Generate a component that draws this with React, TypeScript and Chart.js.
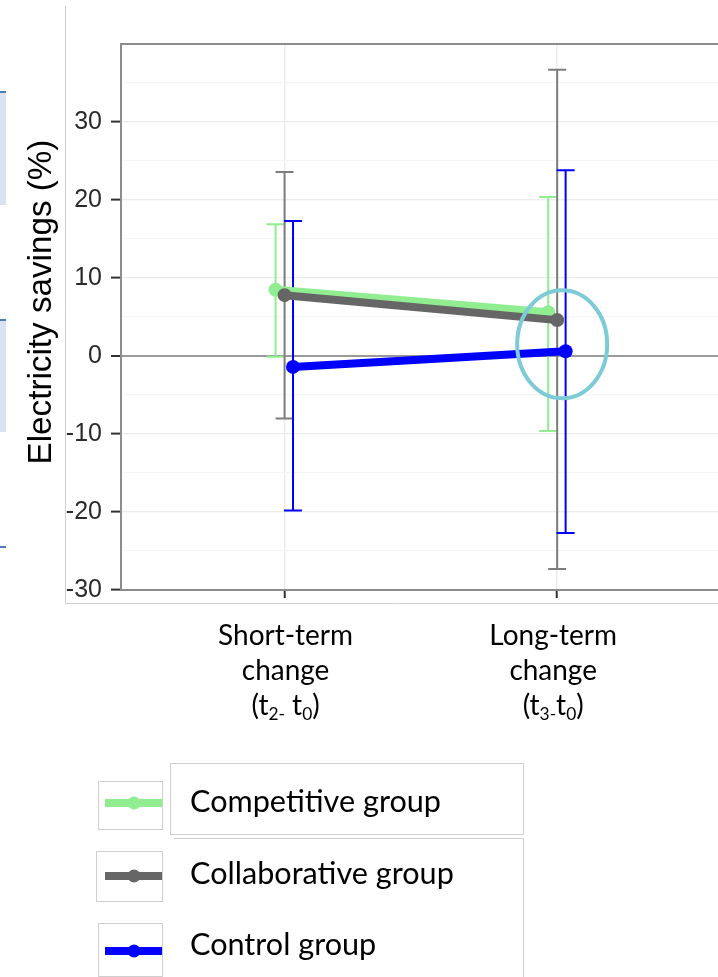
import React, { useEffect, useRef } from 'react';
import { Chart, registerables } from 'chart.js';

Chart.register(...registerables);

// ---------- data ----------
const categoryPositions = [1, 2];
const categoryLabels = [
  ['Short-term', 'change', '(t_{2-} t_{0})'],
  ['Long-term', 'change', '(t_{3-}t_{0})'],
];
const seriesNames = ['Competitive group', 'Collaborative group', 'Control group'];

const competitiveMean = [8.5, 5.6];
const competitiveLower = [-0.1, -9.6];
const competitiveUpper = [16.9, 20.4];

const collaborativeMean = [7.8, 4.6];
const collaborativeLower = [-8.0, -27.3];
const collaborativeUpper = [23.6, 36.7];

const controlMean = [-1.4, 0.6];
const controlLower = [-19.8, -22.7];
const controlUpper = [17.3, 23.8];

const yTickLabels = [-30, -20, -10, 0, 10, 20, 30];
const yTitle = 'Electricity savings (%)';
const highlightCategory = 1; // index of the circled category
const highlightValue = 1.5;

// ---------- styles ----------
const series = [
  { name: seriesNames[0], mean: competitiveMean, lower: competitiveLower, upper: competitiveUpper, color: '#90ee90', errColor: '#90ee90', dodge: -0.033, order: 3 },
  { name: seriesNames[1], mean: collaborativeMean, lower: collaborativeLower, upper: collaborativeUpper, color: '#666666', errColor: '#7d7d7d', dodge: 0, order: 2 },
  { name: seriesNames[2], mean: controlMean, lower: controlLower, upper: controlUpper, color: '#0000ff', errColor: '#0000ff', dodge: 0.031, order: 1 },
];

const CAL = 'Lato, "Open Sans", "DejaVu Sans", sans-serif';
const ARIAL = '"Liberation Sans", Arial, sans-serif';
const VIEW_W = 718;
const CANVAS_W = 730;

function fitSize(ctx: CanvasRenderingContext2D, text: string, family: string, target: number, weight = '400') {
  ctx.font = `${weight} 100px ${family}`;
  const w = ctx.measureText(text).width;
  return (100 * target) / w;
}

function drawRich(ctx: CanvasRenderingContext2D, text: string, cx: number, baseline: number, size: number) {
  const parts: { t: string; sub: boolean }[] = [];
  const re = /_\{([^}]*)\}/g;
  let last = 0;
  let m: RegExpExecArray | null;
  while ((m = re.exec(text))) {
    if (m.index > last) parts.push({ t: text.slice(last, m.index), sub: false });
    parts.push({ t: m[1], sub: true });
    last = m.index + m[0].length;
  }
  if (last < text.length) parts.push({ t: text.slice(last), sub: false });
  const subSize = size * 0.62;
  let total = 0;
  const widths = parts.map((p) => {
    ctx.font = `400 ${p.sub ? subSize : size}px ${CAL}`;
    const w = ctx.measureText(p.t).width;
    total += w;
    return w;
  });
  let x = cx - total / 2;
  ctx.textAlign = 'left';
  ctx.textBaseline = 'alphabetic';
  parts.forEach((p, i) => {
    ctx.font = `400 ${p.sub ? subSize : size}px ${CAL}`;
    ctx.fillText(p.t, x, baseline + (p.sub ? size * 0.18 : 0));
    x += widths[i];
  });
}

const decorPlugin = {
  id: 'decor',
  beforeDraw(chart: any) {
    const ctx: CanvasRenderingContext2D = chart.ctx;
    ctx.save();
    // slide artifacts on the left
    ctx.fillStyle = '#dae3f3';
    ctx.fillRect(0, 92, 6, 113);
    ctx.fillRect(0, 320, 6, 112);
    ctx.strokeStyle = '#4a7ebb';
    ctx.lineWidth = 2;
    [92, 320, 547].forEach((y) => {
      ctx.beginPath();
      ctx.moveTo(0, y);
      ctx.lineTo(6, y);
      ctx.stroke();
    });
    // outer frame of the picture
    ctx.strokeStyle = '#d0d0d0';
    ctx.lineWidth = 1;
    ctx.beginPath();
    ctx.moveTo(65.5, 6);
    ctx.lineTo(65.5, 603.5);
    ctx.lineTo(chart.width, 603.5);
    ctx.stroke();
    ctx.restore();
  },
  beforeDatasetsDraw(chart: any) {
    const ctx: CanvasRenderingContext2D = chart.ctx;
    const xs = chart.scales.x;
    const ys = chart.scales.y;
    ctx.save();
    ctx.lineWidth = 2;
    series.forEach((s) => {
      ctx.strokeStyle = s.errColor;
      s.mean.forEach((_, i) => {
        const x = xs.getPixelForValue(categoryPositions[i] + s.dodge);
        const yl = ys.getPixelForValue(s.lower[i]);
        const yu = ys.getPixelForValue(s.upper[i]);
        ctx.beginPath();
        ctx.moveTo(x, yl);
        ctx.lineTo(x, yu);
        ctx.moveTo(x - 9, yl);
        ctx.lineTo(x + 9, yl);
        ctx.moveTo(x - 9, yu);
        ctx.lineTo(x + 9, yu);
        ctx.stroke();
      });
    });
    ctx.restore();
  },
  afterDatasetsDraw(chart: any) {
    const ctx: CanvasRenderingContext2D = chart.ctx;
    const xs = chart.scales.x;
    const ys = chart.scales.y;
    const ca = chart.chartArea;
    ctx.save();
    // top frame
    ctx.strokeStyle = '#8c8c8c';
    ctx.lineWidth = 2;
    ctx.beginPath();
    ctx.moveTo(ca.left - 1, ca.top);
    ctx.lineTo(chart.width, ca.top);
    ctx.stroke();
    // highlight ellipse
    const cx = xs.getPixelForValue(categoryPositions[highlightCategory]) + 5;
    const cy = ys.getPixelForValue(highlightValue);
    ctx.strokeStyle = '#7ccbd6';
    ctx.lineWidth = 4;
    ctx.beginPath();
    ctx.ellipse(cx, cy, 45, 54, 0, 0, Math.PI * 2);
    ctx.stroke();
    ctx.restore();
  },
  afterDraw(chart: any) {
    const ctx: CanvasRenderingContext2D = chart.ctx;
    const xs = chart.scales.x;
    const ca = chart.chartArea;
    ctx.save();
    ctx.fillStyle = '#000';
    // x category labels
    const xSize = fitSize(ctx, categoryLabels[0][0], CAL, 135);
    categoryLabels.forEach((lines, i) => {
      const cx = xs.getPixelForValue(categoryPositions[i]);
      lines.forEach((ln, j) => {
        drawRich(ctx, ln, cx + (i === 1 ? -4 : 1), ca.bottom + 55 + j * 35, xSize);
      });
    });
    // y title
    const tSize = fitSize(ctx, yTitle, ARIAL, 325);
    ctx.save();
    ctx.translate(51, (ca.top + ca.bottom) / 2 - 15);
    ctx.rotate(-Math.PI / 2);
    ctx.font = `400 ${tSize}px ${ARIAL}`;
    ctx.textAlign = 'center';
    ctx.textBaseline = 'alphabetic';
    ctx.fillText(yTitle, 0, 0);
    ctx.restore();

    // legend boxes
    ctx.strokeStyle = '#cfcfcf';
    ctx.lineWidth = 1;
    ctx.strokeRect(170.5, 763.5, 353, 71);
    ctx.beginPath();
    ctx.moveTo(174, 838.5);
    ctx.lineTo(523.5, 838.5);
    ctx.lineTo(523.5, 977);
    ctx.stroke();
    ctx.strokeRect(98.5, 781.5, 64, 48);
    ctx.strokeRect(96.5, 851.5, 66, 50);
    ctx.strokeRect(98.5, 923.5, 64, 53);

    const lineYs = [803, 876, 951];
    const textBase = [812, 884, 955];
    const lSize = fitSize(ctx, series[0].name, CAL, 251);
    series.forEach((s, i) => {
      ctx.strokeStyle = s.color;
      ctx.lineWidth = 8;
      ctx.beginPath();
      ctx.moveTo(105, lineYs[i]);
      ctx.lineTo(162, lineYs[i]);
      ctx.stroke();
      ctx.fillStyle = s.color;
      ctx.beginPath();
      ctx.arc(134, lineYs[i], 6.5, 0, Math.PI * 2);
      ctx.fill();
      ctx.fillStyle = '#000';
      ctx.font = `400 ${lSize}px ${CAL}`;
      ctx.textAlign = 'left';
      ctx.textBaseline = 'alphabetic';
      ctx.fillText(s.name, 190, textBase[i]);
    });
    ctx.restore();
  },
};

export default function App() {
  const ref = useRef<HTMLCanvasElement | null>(null);
  useEffect(() => {
    if (!ref.current) return;
    const yTickVals: number[] = [];
    for (let v = -30; v <= 40; v += 5) yTickVals.push(v);
    const chart = new Chart(ref.current, {
      type: 'line',
      data: {
        datasets: series.map((s) => ({
          label: s.name,
          data: s.mean.map((v, i) => ({ x: categoryPositions[i] + s.dodge, y: v })),
          borderColor: s.color,
          backgroundColor: s.color,
          borderWidth: 8,
          pointRadius: 7,
          pointHoverRadius: 7,
          pointBorderWidth: 0,
          order: s.order,
          tension: 0,
        })),
      },
      options: {
        animation: false,
        responsive: false,
        devicePixelRatio: 1,
        layout: { autoPadding: false, padding: { top: 44, left: 0, right: 0, bottom: 0 } },
        plugins: { legend: { display: false }, tooltip: { enabled: false } },
        events: [],
        scales: {
          x: {
            type: 'linear',
            min: 0.4,
            max: 2.634,
            afterBuildTicks: (s: any) => {
              s.ticks = categoryPositions.map((v) => ({ value: v }));
            },
            afterFit: (s: any) => {
              s.height = 387;
            },
            grid: {
              color: (c: any) => (c.tick && categoryPositions.includes(c.tick.value) ? '#ececec' : 'rgba(0,0,0,0)'),
              lineWidth: 1.5,
              tickLength: 8,
              tickColor: (c: any) => (c.tick && categoryPositions.includes(c.tick.value) ? '#333' : 'rgba(0,0,0,0)'),
              tickWidth: 2,
            },
            border: { display: true, color: '#8c8c8c', width: 2 },
            ticks: { display: false },
          },
          y: {
            type: 'linear',
            min: -30,
            max: 40,
            afterBuildTicks: (s: any) => {
              s.ticks = yTickVals.map((v) => ({ value: v }));
            },
            afterFit: (s: any) => {
              s.width = 121;
            },
            ticks: {
              autoSkip: false,
              padding: 9,
              color: '#2b2b2b',
              font: { family: ARIAL, size: 25 },
              callback: (v: any) => (yTickLabels.includes(Number(v)) ? String(v) : ''),
            },
            grid: {
              color: (c: any) => {
                const v = c.tick ? c.tick.value : 1;
                if (v === 0) return '#9a9a9a';
                return v % 10 === 0 ? '#ececec' : '#f5f5f5';
              },
              lineWidth: (c: any) => {
                const v = c.tick ? c.tick.value : 1;
                return v === 0 ? 2 : 1.2;
              },
              tickLength: 10,
              tickWidth: 2,
              tickColor: (c: any) => {
                const v = c.tick ? c.tick.value : 1;
                return yTickLabels.includes(v) ? '#333' : 'rgba(0,0,0,0)';
              },
            },
            border: { display: true, color: '#8c8c8c', width: 2 },
          },
        },
      },
      plugins: [decorPlugin],
    } as any);
    return () => chart.destroy();
  }, []);
  return (
    <div style={{ position: 'absolute', left: 0, top: 0, width: VIEW_W, height: 977, overflow: 'hidden', background: '#fff' }}>
      <canvas ref={ref} width={CANVAS_W} height={977} style={{ width: CANVAS_W, height: 977, display: 'block' }} />
    </div>
  );
}
